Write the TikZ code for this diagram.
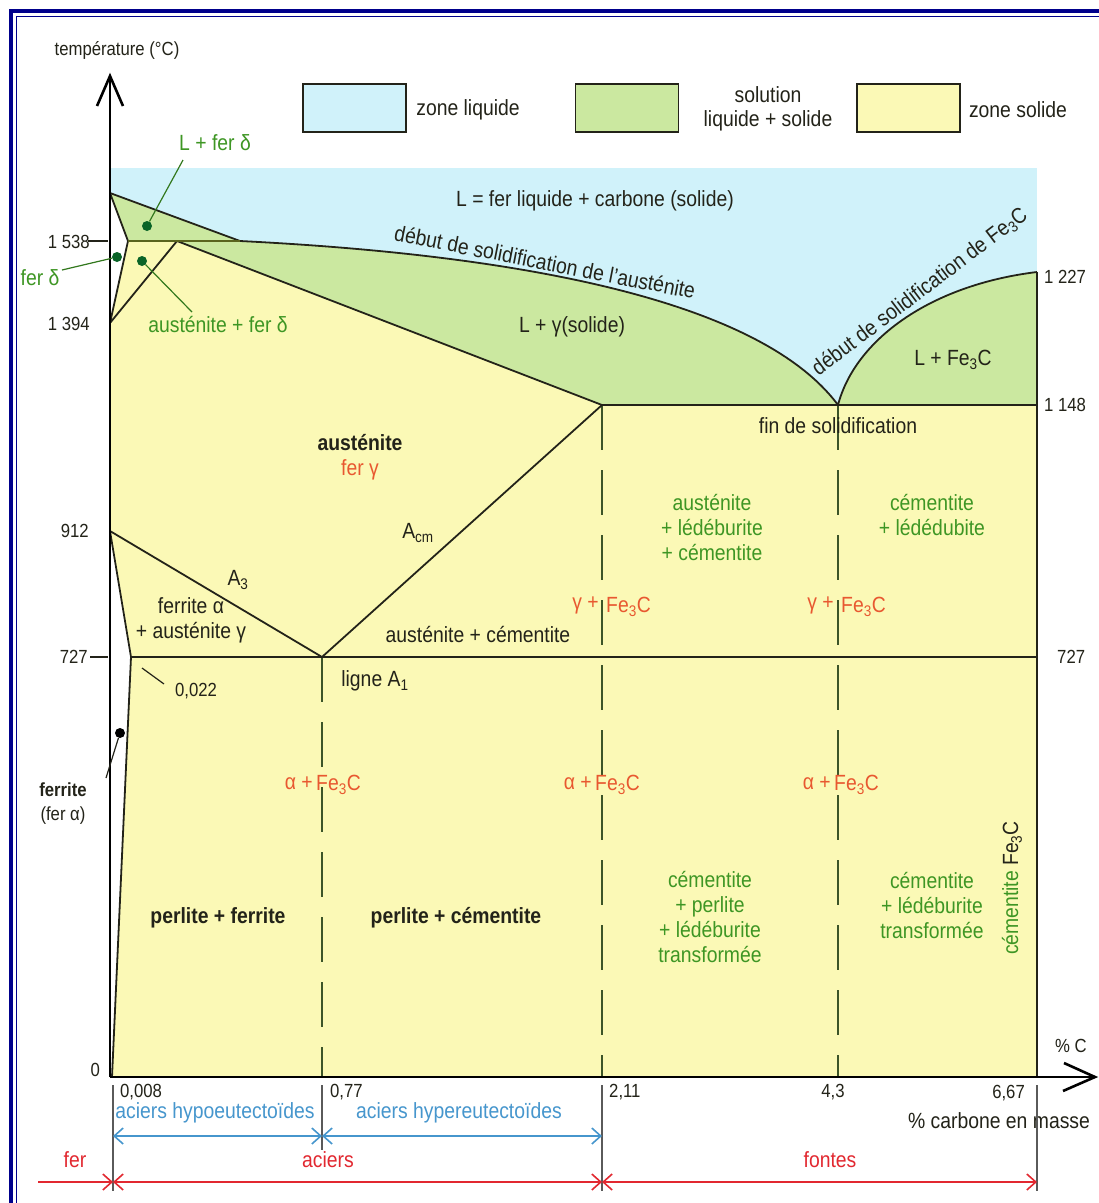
\documentclass[tikz,border=0pt]{standalone}
\usepackage{fontspec}
\setmainfont{Liberation Sans}[FakeStretch=0.88]
\usetikzlibrary{arrows.meta}
\definecolor{liq}{RGB}{208,242,250}
\definecolor{mix}{RGB}{203,232,160}
\definecolor{sol}{RGB}{251,249,182}
\definecolor{gtext}{RGB}{62,150,36}
\definecolor{otext}{RGB}{232,88,48}
\definecolor{rtext}{RGB}{226,40,48}
\definecolor{btext}{RGB}{70,150,205}
\definecolor{navy}{RGB}{0,0,140}
\definecolor{ink}{RGB}{35,35,25}
\definecolor{dashc}{RGB}{60,85,40}
\definecolor{dotg}{RGB}{10,100,40}
\definecolor{olive}{RGB}{90,100,30}
\definecolor{tickc}{RGB}{90,90,90}
\begin{document}
\begin{tikzpicture}[x=1pt,y=-1pt,
  lab/.style={font=\fontsize{22}{25}\selectfont, inner sep=0pt, align=center, text=ink},
  blab/.style={lab, font=\fontsize{22}{25}\selectfont\bfseries},
  glab/.style={lab, text=gtext},
  olab/.style={lab, text=otext},
  num/.style={font=\fontsize{19}{21}\selectfont, inner sep=0pt, text=ink},
  phase/.style={draw=ink, line width=1.8pt, line join=round},
  dline/.style={draw=dashc, line width=1.6pt, dash pattern=on 45pt off 20pt},
  gdot/.style={circle, fill=dotg, inner sep=0pt, minimum size=10pt},
  kdot/.style={circle, fill=black, inner sep=0pt, minimum size=10pt},
  gptr/.style={draw=gtext!80!black, line width=1.2pt},
  kptr/.style={draw=ink, line width=1.2pt},
  legbox/.style={draw=ink, line width=1.5pt, minimum width=103pt, minimum height=48pt, inner sep=0pt},
  barb/.style={line width=1.6pt},
  btip/.tip={Straight Barb[length=9pt,width=16pt,line width=1.6pt]}
]
\useasboundingbox (0,0) rectangle (1099,1203);
\fill[white] (0,0) rectangle (1099,1203);
% frame (left and top only, cropped on the other sides)
\draw[navy, line width=4pt] (11,1203) -- (11,11) -- (1099,11);
\draw[navy, line width=1.6pt] (16.5,1203) -- (16.5,16.5) -- (1099,16.5);

% regions
\fill[liq] (110,168) rectangle (1037,406);
\fill[white] (110,193) -- (128,241) -- (110,323) -- cycle;
\fill[mix] (110,193) -- (240,241) -- (128,241) -- cycle;
\fill[mix] (177,241) -- (240,241) .. controls (520,255) and (760,300) .. (838,405) -- (602,405) -- cycle;
\fill[mix] (838,405) .. controls (855,340) and (930,285) .. (1037,272) -- (1037,405) -- cycle;
\fill[sol] (128,241) -- (177,241) -- (602,405) -- (1037,405) -- (1037,1077) -- (112,1077) -- (131,657) -- (110,531) -- (110,323) -- cycle;

% legend
\node[legbox, fill=liq] (lb1) at (354.5,108) {};
\node[legbox, fill=mix] (lb2) at (627,108) {};
\node[legbox, fill=sol] (lb3) at (908.5,108) {};
\node[lab] (lt1) at (468,110) {zone liquide};
\node[lab, font=\fontsize{22}{24}\selectfont] (lt2) at (768,109) {solution\\liquide + solide};
\node[lab] (lt3) at (1018,110) {zone solide};

% dashed verticals
\draw[dline] (322,657) -- (322,1077);
\draw[dline] (602,405) -- (602,1077);
\draw[dline] (838,405) -- (838,1077);

% phase lines
\draw[phase] (110,193) -- (240,241) .. controls (520,255) and (760,300) .. (838,405) .. controls (855,340) and (930,285) .. (1037,272);
\draw[phase] (110,193) -- (128,241) -- (110,323) -- (177,241) -- (602,405);
\draw[draw=olive, line width=2.6pt] (128,241) -- (240,241);
\draw[phase] (602,405) -- (1037,405);
\draw[phase] (1037,272) -- (1037,1077);
\draw[phase] (110,531) -- (131,657) -- (112,1077);
\draw[phase] (110,531) -- (322,657) -- (602,405);
\draw[phase] (131,657) -- (1037,657);

% axes
\coordinate (o) at (110,1077);
\coordinate (ytop) at (110,76);
\coordinate (xend) at (1095,1077);
\draw[black, line width=2.2pt] (o) -- (ytop);
\draw[black, line width=2.6pt, line join=miter] (97,106) -- (ytop) -- (123,106);
\draw[black, line width=2.2pt] (o) -- (xend);
\draw[black, line width=2.6pt, line join=miter] (1064,1063) -- (xend) -- (1063,1091);
\draw[ink, line width=1.5pt] (88,241) -- (108,241);
\draw[ink, line width=1.5pt] (90,657) -- (108,657);

% axis labels
\node[num] (tlab) at (117,50) {température (°C)};
\node[num, anchor=east] (n1538) at (90,242) {1 538};
\node[num, anchor=east] (n1394) at (90,324) {1 394};
\node[num, anchor=east] (n912) at (89,531) {912};
\node[num, anchor=east] (n727) at (88,657) {727};
\node[num, anchor=east] (n0) at (100,1070) {0};
\node[num, anchor=west] (n1227) at (1044,277) {1 227};
\node[num, anchor=west] (n1148) at (1044,405) {1 148};
\node[num, anchor=west] (n727r) at (1057,657) {727};
\node[num] (pc) at (1071,1046) {\% C};

% bottom
\node[num, anchor=west] (b008) at (120,1092) {0,008};
\node[num, anchor=west] (b077) at (330,1092) {0,77};
\node[num, anchor=west] (b211) at (609,1092) {2,11};
\node[num] (b43) at (833,1092) {4,3};
\node[num, anchor=east] (b667) at (1025,1093) {6,67};
\node[lab] (cm) at (999,1121) {\% carbone en masse};
\draw[tickc, line width=1.5pt] (113,1085) -- (113,1191);
\draw[tickc, line width=1.5pt] (322,1085) -- (322,1150);
\draw[tickc, line width=1.5pt] (602,1085) -- (602,1191);
\draw[tickc, line width=1.5pt] (1037,1085) -- (1037,1191);
\coordinate (bl0) at (113,1136);
\coordinate (bl1) at (322,1136);
\coordinate (bl2) at (602,1136);
\draw[btext, barb, btip-btip] (bl0) -- (bl1);
\draw[btext, barb, btip-btip] (bl1) -- (bl2);
\node[lab, text=btext] (hypo) at (215,1113) {aciers hypoeutectoïdes};
\node[lab, text=btext] (hyper) at (459,1113) {aciers hypereutectoïdes};
\coordinate (r0) at (38,1182);
\coordinate (r1) at (113,1182);
\coordinate (r2) at (602,1182);
\coordinate (r3) at (1037,1182);
\draw[rtext, barb, -btip] (r0) -- (r1);
\draw[rtext, barb, btip-btip] (r1) -- (r2);
\draw[rtext, barb, btip-btip] (r2) -- (r3);
\node[lab, text=rtext] (fer) at (75,1160) {fer};
\node[lab, text=rtext] (aciers) at (328,1160) {aciers};
\node[lab, text=rtext] (fontes) at (830,1160) {fontes};

% top-left pointers
\node[glab] (lfd) at (215,143) {L + fer δ};
\node[gdot] (d1) at (147,226) {};
\coordinate (p1) at (183,160);
\draw[gptr] (p1) -- (d1);
\node[glab] (fd) at (40,278) {fer δ};
\node[gdot] (d2) at (117,257) {};
\coordinate (p2) at (62,270);
\draw[gptr] (p2) -- (d2);
\node[glab] (afd) at (218,325) {austénite + fer δ};
\node[gdot] (d3) at (142,261) {};
\coordinate (p3) at (192,312);
\draw[gptr] (p3) -- (d3);

% region labels
\node[lab] (Ldef) at (595,201) {L = fer liquide + carbone (solide)};
\node[lab, rotate=-11] (dsa) at (545,262) {début de solidification de l'austénite};
\node[lab] (lg) at (572,327) {L + γ(solide)};
\node[lab, rotate=37] (dsf) at (920,292) {début de solidification de Fe\textsubscript{3}C};
\node[lab] (lfe) at (953,360) {L + Fe\textsubscript{3}C};
\node[lab] (fin) at (838,426) {fin de solidification};
\node[blab] (aus) at (360,443) {austénite};
\node[olab] (ferg) at (360,470) {fer γ};
\node[lab] (acm) at (418,533) {A\textsubscript{cm}};
\node[lab] (a3) at (238,580) {A\textsubscript{3}};
\node[lab] (fa) at (191,620) {ferrite α\\+ austénite γ};
\node[lab] (ac) at (478,634) {austénite + cémentite};
\node[lab] (a1) at (375,681) {ligne A\textsubscript{1}};
\node[num] (n022) at (196,691) {0,022};
\coordinate (p4) at (142,668);
\coordinate (p5) at (164,684);
\draw[kptr] (p4) -- (p5);
\node[num, font=\fontsize{19}{21}\selectfont\bfseries] (fer2) at (63,790) {ferrite};
\node[num] (fera) at (63,816) {(fer α)};
\node[kdot] (d4) at (120,733) {};
\coordinate (p6) at (106,778);
\draw[kptr] (p6) -- (d4);

\node[glab] (g1) at (712,527) {austénite\\+ lédéburite\\+ cémentite};
\node[glab] (g2) at (932,515) {cémentite\\+ lédédubite};
\node[olab, anchor=east] (gp1) at (599,605) {γ +};
\node[olab, anchor=west] (gf1) at (606,607) {Fe\textsubscript{3}C};
\node[olab, anchor=east] (gp2) at (834,605) {γ +};
\node[olab, anchor=west] (gf2) at (841,607) {Fe\textsubscript{3}C};
\node[olab, anchor=east] (ap1) at (313,783) {α +};
\node[olab, anchor=west] (af1) at (316,785) {Fe\textsubscript{3}C};
\node[olab, anchor=east] (ap2) at (592,783) {α +};
\node[olab, anchor=west] (af2) at (595,785) {Fe\textsubscript{3}C};
\node[olab, anchor=east] (ap3) at (831,783) {α +};
\node[olab, anchor=west] (af3) at (834,785) {Fe\textsubscript{3}C};
\node[blab] (pf) at (218,918) {perlite + ferrite};
\node[blab] (pc2) at (456,918) {perlite + cémentite};
\node[glab] (g3) at (710,917) {cémentite\\+ perlite\\+ lédéburite\\transformée};
\node[glab] (g4) at (932,905) {cémentite\\+ lédéburite\\transformée};
\node[lab, rotate=90] (cem) at (1012,888) {\textcolor{gtext}{cémentite} Fe\textsubscript{3}C};
\end{tikzpicture}
\end{document}
